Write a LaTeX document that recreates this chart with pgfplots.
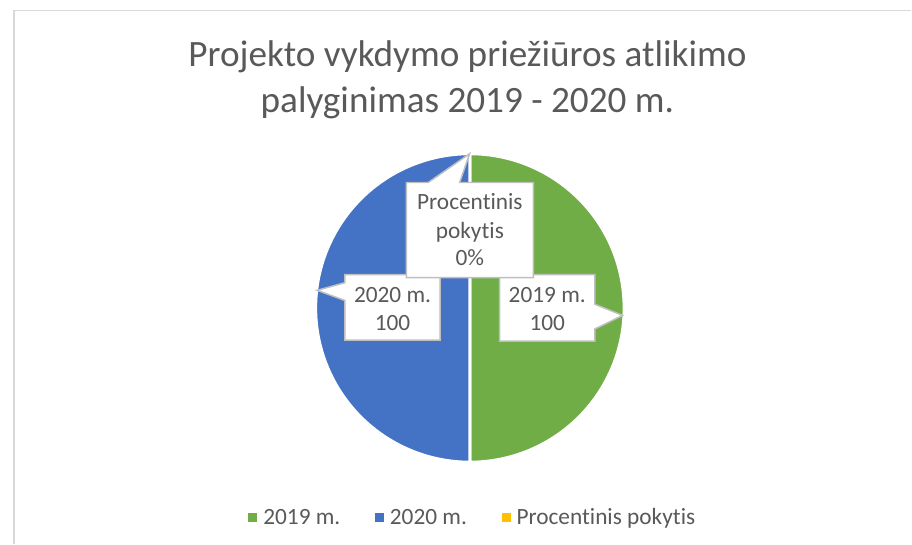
\documentclass[border=0pt]{standalone}
\usepackage{pgfplots}
\pgfplotsset{compat=1.18}
\usepackage{pgfplotstable}
\usepackage{fontspec}
\setmainfont{Carlito}[Ligatures=NoCommon]
\definecolor{cgreen}{HTML}{70AD47}
\definecolor{cblue}{HTML}{4472C4}
\definecolor{cyellow}{HTML}{FFC000}
\definecolor{tgray}{HTML}{595959}
\definecolor{bgray}{HTML}{BFBFBF}
\definecolor{fgray}{HTML}{D9D9D9}

\pgfplotstableread{
label value
2019 100
2020 100
pokytis 0
}\piedata

\begin{document}
\pgfplotstablegetelem{0}{value}\of\piedata \let\va\pgfplotsretval
\pgfplotstablegetelem{1}{value}\of\piedata \let\vb\pgfplotsretval
\pgfplotstablegetelem{2}{value}\of\piedata \let\vc\pgfplotsretval
\pgfmathsetmacro\tot{\va+\vb+\vc}
\pgfmathsetmacro\aA{90-(\va/\tot)*360}
\pgfmathsetmacro\aB{\aA-(\vb/\tot)*360}
\begin{tikzpicture}
\begin{axis}[
  at={(0,0)}, anchor=center,
  width=308bp, height=308bp, scale only axis,
  xmin=-154, xmax=154, ymin=-154, ymax=154,
  hide axis, clip=false,
  legend columns=3,
  legend image code/.code={\fill[#1,draw=none] (0bp,-4.5bp) rectangle (9bp,4.5bp);},
  legend style={at={(axis cs:3,-211)}, anchor=center, draw=none, fill=none,
    font=\fontsize{23.5bp}{28bp}\selectfont, text=tgray,
    /tikz/every odd column/.append style={column sep=4bp},
    /tikz/every even column/.append style={column sep=33bp}},
]
\addplot[fill=cgreen, draw=white, line width=3bp, domain=\aA:90, samples=120]
  ({155.5*cos(x)},{155.5*sin(x)}) -- (axis cs:0,0) -- cycle;
\addlegendentry{2019 m.}
\addplot[fill=cblue, draw=white, line width=3bp, domain=\aB:\aA, samples=120]
  ({155.5*cos(x)},{155.5*sin(x)}) -- (axis cs:0,0) -- cycle;
\addlegendentry{2020 m.}
\addlegendimage{fill=cyellow}
\addlegendentry{Procentinis pokytis}

% data label callouts
\begin{scope}[font=\fontsize{23.5bp}{28bp}\selectfont, text=tgray]
\filldraw[fill=white, draw=bgray, line width=1.5bp]
  (axis cs:30,33.5) -- (axis cs:126,33.5) -- (axis cs:126,3.8) -- (axis cs:154,-7.5)
  -- (axis cs:126,-21.2) -- (axis cs:126,-33.5) -- (axis cs:30,-33.5) -- cycle;
\filldraw[fill=white, draw=bgray, line width=1.5bp]
  (axis cs:-126,33.5) -- (axis cs:-30,33.5) -- (axis cs:-30,-32.5) -- (axis cs:-126,-32.5)
  -- (axis cs:-126,7.5) -- (axis cs:-154,17.8) -- (axis cs:-126,25.5) -- cycle;
\filldraw[fill=white, draw=bgray, line width=1.5bp]
  (axis cs:-64,30.5) -- (axis cs:-64,126.5) -- (axis cs:-42,126.5) -- (axis cs:-0.3,155.5)
  -- (axis cs:-10.3,126.5) -- (axis cs:64,126.5) -- (axis cs:64,30.5) -- cycle;
\node[anchor=base, inner sep=0pt] at (axis cs:0,98.8) {Procentinis};
\node[anchor=base, inner sep=0pt] at (axis cs:0,70.5) {pokytis};
\node[anchor=base, inner sep=0pt] at (axis cs:0,42.5) {0\%};
\node[anchor=base, inner sep=0pt] at (axis cs:-78,5.5) {2020 m.};
\node[anchor=base, inner sep=0pt] at (axis cs:-78,-22.5) {100};
\node[anchor=base, inner sep=0pt] at (axis cs:78,5.5) {2019 m.};
\node[anchor=base, inner sep=0pt] at (axis cs:78,-22.5) {100};
\end{scope}
\end{axis}
% title
\begin{scope}[font=\fontsize{37.5bp}{46bp}\selectfont, text=tgray]
\node[anchor=base, inner sep=0pt] at (-2.5bp,243.8bp) {Projekto vykdymo priežiūros atlikimo};
\node[anchor=base, inner sep=0pt] at (-2.5bp,197.5bp) {palyginimas 2019 - 2020 m.};
\end{scope}
% chart area frame (top and left edges visible)
\draw[fgray, line width=1.5bp] (445bp,300bp) -- (-459.5bp,300bp) -- (-459.5bp,-237.5bp);
\path[use as bounding box] (-467bp,-237.5bp) rectangle (445bp,310.5bp);
\end{tikzpicture}
\end{document}
